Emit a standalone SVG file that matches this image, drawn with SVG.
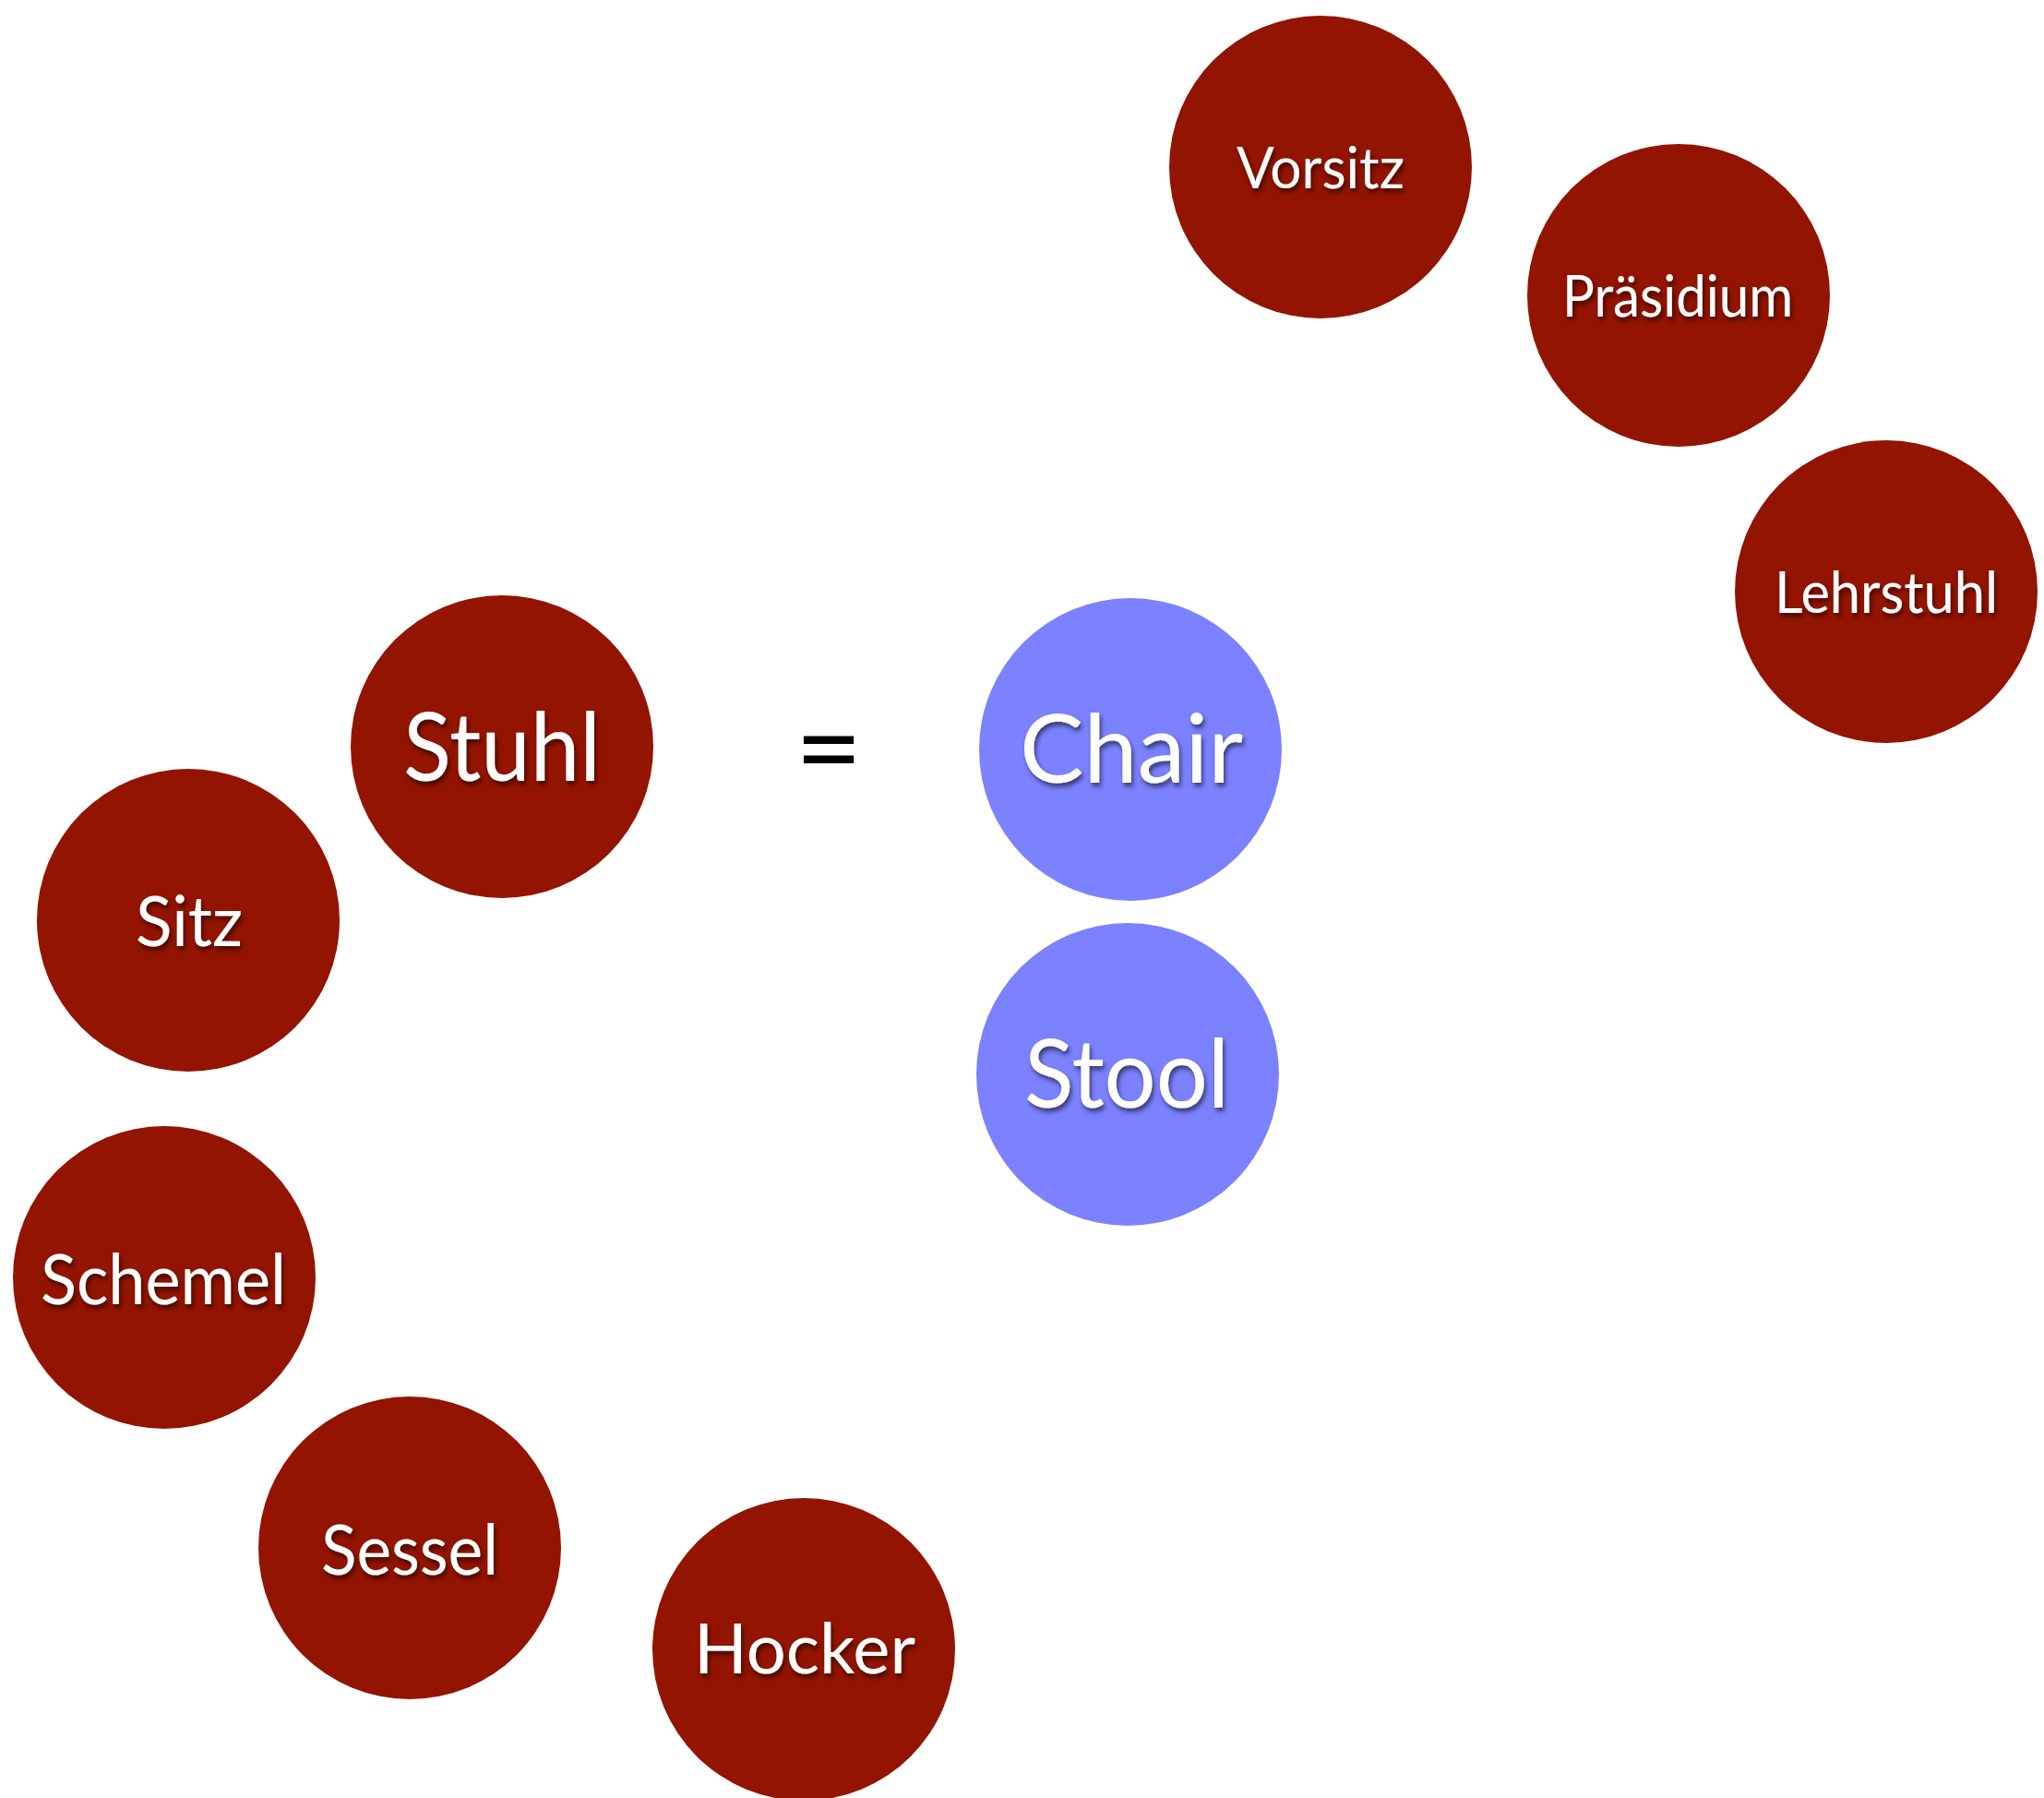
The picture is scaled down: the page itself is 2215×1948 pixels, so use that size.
<svg xmlns="http://www.w3.org/2000/svg" width="2215" height="1948" viewBox="0 0 2215 1948">
  <defs>
    <filter id="shadow" x="-20%" y="-40%" width="140%" height="180%">
      <feGaussianBlur in="SourceAlpha" stdDeviation="2.5"/>
      <feOffset dx="2" dy="4" result="b"/>
      <feComponentTransfer><feFuncA type="linear" slope="0.55"/></feComponentTransfer>
      <feMerge><feMergeNode/><feMergeNode in="SourceGraphic"/></feMerge>
    </filter>
  </defs>
  <style>
    .de { fill: #931400; }
    .en { fill: #7B81FF; }
    .lbl { fill: #ffffff; font-family: "Lato", "Open Sans", "Liberation Sans", sans-serif; text-anchor: middle; filter: url(#shadow); }
    .s { font-size: 61px; }
    .m { font-size: 76px; }
    .l { font-size: 103px; }
    .eq { fill: #000000; font-family: "Lato", "Liberation Sans", sans-serif; text-anchor: middle; font-size: 126px; }
  </style>
  <rect width="2215" height="1948" fill="#ffffff"/>

  <g id="connectors"/>

  <!-- German words -->
  <g id="node-vorsitz">
    <circle class="de" cx="1431" cy="181" r="164"/>
    <text class="lbl s" x="1431" y="204" textLength="182" lengthAdjust="spacingAndGlyphs">Vorsitz</text>
  </g>
  <g id="node-praesidium">
    <circle class="de" cx="1819" cy="320" r="164"/>
    <text class="lbl s" x="1818" y="343" textLength="250" lengthAdjust="spacingAndGlyphs">Präsidium</text>
  </g>
  <g id="node-lehrstuhl">
    <circle class="de" cx="2044" cy="641" r="164"/>
    <text class="lbl s" x="2044" y="664" textLength="242" lengthAdjust="spacingAndGlyphs">Lehrstuhl</text>
  </g>
  <g id="node-stuhl">
    <circle class="de" cx="544" cy="809" r="164"/>
    <text class="lbl l" x="544" y="846" textLength="214" lengthAdjust="spacingAndGlyphs">Stuhl</text>
  </g>
  <g id="node-sitz">
    <circle class="de" cx="204" cy="997" r="164"/>
    <text class="lbl m" x="205" y="1025" textLength="116" lengthAdjust="spacingAndGlyphs">Sitz</text>
  </g>
  <g id="node-schemel">
    <circle class="de" cx="178" cy="1384" r="164"/>
    <text class="lbl m" x="177" y="1413" textLength="266" lengthAdjust="spacingAndGlyphs">Schemel</text>
  </g>
  <g id="node-sessel">
    <circle class="de" cx="444" cy="1677" r="164"/>
    <text class="lbl m" x="444" y="1706" textLength="192" lengthAdjust="spacingAndGlyphs">Sessel</text>
  </g>
  <g id="node-hocker">
    <circle class="de" cx="871" cy="1787" r="164"/>
    <text class="lbl m" x="872" y="1813" textLength="240" lengthAdjust="spacingAndGlyphs">Hocker</text>
  </g>

  <!-- equals sign -->
  <g id="node-equals">
    <text class="eq" x="898" y="855">=</text>
  </g>

  <!-- English words -->
  <g id="node-chair">
    <circle class="en" cx="1225" cy="812" r="164"/>
    <text class="lbl l" x="1226" y="848" textLength="242" lengthAdjust="spacingAndGlyphs">Chair</text>
  </g>
  <g id="node-stool">
    <circle class="en" cx="1222" cy="1164" r="164"/>
    <text class="lbl l" x="1221" y="1200" textLength="222" lengthAdjust="spacingAndGlyphs">Stool</text>
  </g>
</svg>
